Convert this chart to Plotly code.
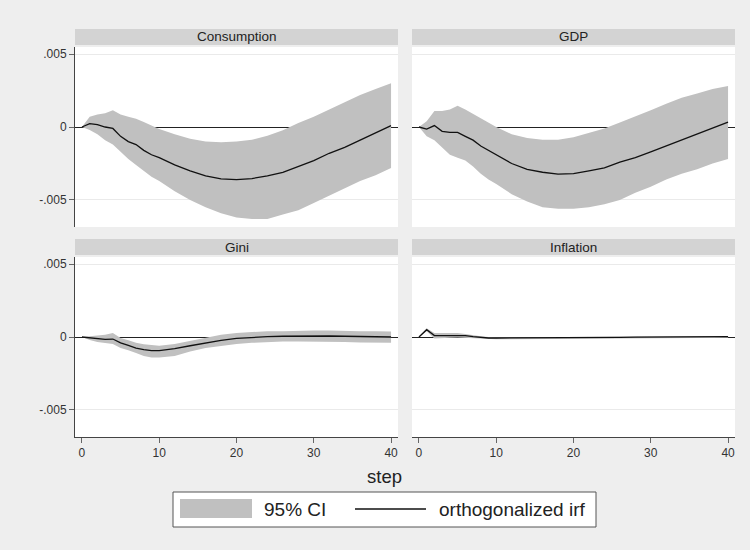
import plotly.graph_objects as go

# Forecast horizon (steps)
steps = [0, 1, 2, 3, 4, 5, 6, 7, 8, 9, 10,
         12, 14, 16, 18, 20, 22, 24, 26, 28, 30, 32, 34, 36, 38, 40]

panels = ["Consumption", "GDP", "Gini", "Inflation"]

# Orthogonalized impulse responses and 95% confidence bounds
cons_irf = [0, 0.00023, 0.00016, 0, -0.0001, -0.00064, -0.001, -0.0012, -0.0016, -0.0019, -0.0021,
            -0.0026, -0.003, -0.00335, -0.00355, -0.0036, -0.00353, -0.00335, -0.0031, -0.0027,
            -0.0023, -0.0018, -0.0014, -0.0009, -0.0004, 0.0001]
cons_hi = [0, 0.0007, 0.00085, 0.00095, 0.00115, 0.00085, 0.0007, 0.00057, 0.00035, 0.0001, -0.00014,
           -0.0005, -0.0008, -0.001, -0.00105, -0.001, -0.00087, -0.0006, -0.00023, 0.00028,
           0.0007, 0.0012, 0.0017, 0.0022, 0.0026, 0.003]
cons_lo = [0, -0.0002, -0.0005, -0.0009, -0.0012, -0.0017, -0.0022, -0.0026, -0.003, -0.0034, -0.0037,
           -0.0044, -0.005, -0.0055, -0.0059, -0.0062, -0.0063, -0.0063, -0.006, -0.0057,
           -0.0052, -0.0047, -0.0042, -0.0037, -0.0033, -0.0028]

gdp_irf = [0, -0.00014, 0.0001, -0.0003, -0.00037, -0.00037, -0.00064, -0.0009, -0.0013, -0.0016, -0.0019,
           -0.0025, -0.0029, -0.0031, -0.00323, -0.0032, -0.003, -0.0028, -0.0024, -0.0021,
           -0.0017, -0.0013, -0.0009, -0.0005, -0.0001, 0.00034]
gdp_hi = [0, 0.0004, 0.0011, 0.0011, 0.0012, 0.00145, 0.0012, 0.0009, 0.00057, 0.00028, 0,
          -0.0005, -0.00076, -0.00087, -0.00087, -0.0007, -0.0004, -0.0001, 0.0003, 0.0007,
          0.00115, 0.0016, 0.002, 0.0023, 0.0026, 0.0028]
gdp_lo = [0, -0.00064, -0.0009, -0.0014, -0.0019, -0.0021, -0.0023, -0.0027, -0.0032, -0.0036, -0.0039,
          -0.0046, -0.0051, -0.0055, -0.0056, -0.0056, -0.0055, -0.0053, -0.005, -0.0045,
          -0.0041, -0.0036, -0.0032, -0.0029, -0.0025, -0.0022]

gini_irf = [0, -0.00007, -0.00014, -0.00016, -0.00014, -0.0004, -0.00057, -0.00076, -0.00087, -0.00094, -0.00094,
            -0.0008, -0.0006, -0.0004, -0.00023, -0.0001, -0.00002, 0.00002, 0.00005, 0.00007,
            0.00007, 0.00007, 0.00005, 0.00005, 0.00002, 0]
gini_hi = [0, 0.00005, 0.0001, 0.00016, 0.00028, -0.00007, -0.00023, -0.0004, -0.0005, -0.00057, -0.0006,
           -0.00048, -0.00025, -0.00002, 0.00016, 0.00028, 0.00034, 0.0004, 0.0004, 0.00044,
           0.00044, 0.00044, 0.0004, 0.0004, 0.0004, 0.00037]
gini_lo = [0, -0.0002, -0.00034, -0.0004, -0.00048, -0.00076, -0.0009, -0.0011, -0.0013, -0.0014, -0.0014,
           -0.0013, -0.001, -0.00076, -0.0006, -0.00048, -0.0004, -0.00034, -0.0003, -0.0003,
           -0.0003, -0.00034, -0.00034, -0.00037, -0.0004, -0.0004]

infl_irf = [0, 0.0005, 0.0001, 0.0001, 0.0001, 0.0001, 0.0001, 0.00002, -0.00005, -0.00007, -0.00007,
            -0.00007, -0.00007, -0.00006, -0.00005, -0.00004, -0.00003, -0.00002, -0.00002, -0.00001,
            0, 0, 0.00001, 0.00001, 0.00002, 0.00002]
infl_hi = [0, 0.0006, 0.00028, 0.00028, 0.0003, 0.00028, 0.0002, 0.0001, 0.00005, 0, -0.00002,
           -0.00002, -0.00002, -0.00001, 0, 0.00001, 0.00002, 0.00002, 0.00003, 0.00003,
           0.00004, 0.00004, 0.00005, 0.00005, 0.00006, 0.00007]
infl_lo = [0, 0.0004, -0.0001, -0.00005, -0.00005, -0.00003, -0.00005, -0.0001, -0.00014, -0.00016, -0.00016,
           -0.00015, -0.00014, -0.00013, -0.00012, -0.0001, -0.0001, -0.00009, -0.00009, -0.00008,
           -0.00008, -0.00007, -0.00007, -0.00006, -0.00006, -0.00005]

y_ticks = [-0.005, 0, 0.005]
y_tick_text = ["-.005", "0", ".005"]
x_ticks = [0, 10, 20, 30, 40]

series = {
    "Consumption": (cons_irf, cons_lo, cons_hi),
    "GDP": (gdp_irf, gdp_lo, gdp_hi),
    "Gini": (gini_irf, gini_lo, gini_hi),
    "Inflation": (infl_irf, infl_lo, infl_hi),
}

W, H = 750, 550
BG = "#EEEEEE"
STRIP = "#D3D3D3"
BAND = "#C0C0C0"
FONT = "Liberation Sans, Arial, sans-serif"


def px_x(p):
    return p / W


def px_y(p):
    return 1 - p / H


# panel boxes in pixels: (left, right, top, bottom)
cols = [(75, 398), (412, 735)]
rows = [(47, 227), (257, 437)]
strips = [(29, 45), (239, 255)]

fig = go.Figure()

for i, name in enumerate(panels):
    r, c = divmod(i, 2)
    suffix = "" if i == 0 else str(i + 1)
    xa, ya = "x" + suffix, "y" + suffix
    irf, lo, hi = series[name]
    fig.add_trace(go.Scatter(x=steps, y=lo, mode="lines", line=dict(width=0, color=BAND),
                             xaxis=xa, yaxis=ya, showlegend=False, hoverinfo="skip"))
    fig.add_trace(go.Scatter(x=steps, y=hi, mode="lines", line=dict(width=0, color=BAND),
                             fill="tonexty", fillcolor=BAND,
                             xaxis=xa, yaxis=ya, showlegend=False, hoverinfo="skip"))
    fig.add_trace(go.Scatter(x=steps, y=irf, mode="lines", line=dict(width=1.3, color="#111111"),
                             xaxis=xa, yaxis=ya, showlegend=False))

    left, right = cols[c]
    top, bottom = rows[r]
    bottom_row = r == 1
    left_col = c == 0

    fig.layout["xaxis" + suffix] = dict(
        domain=[px_x(left), px_x(right)], anchor=ya, range=[-0.9, 40.9],
        tickvals=x_ticks if bottom_row else [], showticklabels=bottom_row,
        ticks="outside" if bottom_row else "", ticklen=5, tickcolor="#666666",
        showline=bottom_row, linecolor="#444444", linewidth=1,
        showgrid=False, zeroline=False, fixedrange=True,
        tickfont=dict(family=FONT, size=12, color="#333333"),
    )
    fig.layout["yaxis" + suffix] = dict(
        domain=[px_y(bottom), px_y(top)], anchor=xa, range=[-0.00685, 0.00548],
        tickvals=y_ticks, ticktext=y_tick_text, showticklabels=left_col,
        ticks="outside" if left_col else "", ticklen=5, tickcolor="#666666",
        showline=left_col, linecolor="#444444", linewidth=1,
        showgrid=True, gridcolor="#EAEAEA", gridwidth=1,
        zeroline=True, zerolinecolor="#222222", zerolinewidth=1,
        fixedrange=True, tickfont=dict(family=FONT, size=12, color="#333333"),
    )

    # strip header with panel name
    s_top, s_bot = strips[r]
    fig.add_shape(type="rect", xref="paper", yref="paper",
                  x0=px_x(left), x1=px_x(right), y0=px_y(s_bot), y1=px_y(s_top),
                  fillcolor=STRIP, line=dict(width=0), layer="below")
    fig.add_annotation(xref="paper", yref="paper", x=px_x((left + right) / 2),
                       y=px_y((s_top + s_bot) / 2), text=name, showarrow=False,
                       xanchor="center", yanchor="middle",
                       font=dict(family=FONT, size=13.5, color="#222222"))

# x-axis title
fig.add_annotation(xref="paper", yref="paper", x=px_x(384), y=px_y(476), text="step",
                   showarrow=False, xanchor="center", yanchor="middle",
                   font=dict(family=FONT, size=18.5, color="#222222"))

# legend box
fig.add_shape(type="rect", xref="paper", yref="paper",
              x0=px_x(173), x1=px_x(596), y0=px_y(527), y1=px_y(492),
              fillcolor="white", line=dict(color="#555555", width=1))
fig.add_shape(type="rect", xref="paper", yref="paper",
              x0=px_x(180), x1=px_x(252), y0=px_y(518), y1=px_y(499),
              fillcolor=BAND, line=dict(width=0))
fig.add_annotation(xref="paper", yref="paper", x=px_x(262), y=px_y(509.5), text="95% CI",
                   showarrow=False, xanchor="left", yanchor="middle",
                   font=dict(family=FONT, size=19, color="#222222"))
fig.add_shape(type="line", xref="paper", yref="paper",
              x0=px_x(355), x1=px_x(426), y0=px_y(509), y1=px_y(509),
              line=dict(color="#111111", width=1.5))
fig.add_annotation(xref="paper", yref="paper", x=px_x(437), y=px_y(509.5),
                   text="orthogonalized irf", showarrow=False, xanchor="left", yanchor="middle",
                   font=dict(family=FONT, size=19, color="#222222"))

fig.update_layout(
    width=W, height=H,
    margin=dict(l=0, r=0, t=0, b=0),
    paper_bgcolor=BG, plot_bgcolor="white",
    showlegend=False,
    font=dict(family=FONT),
)

fig.write_html("out.html", config={"displayModeBar": False})
